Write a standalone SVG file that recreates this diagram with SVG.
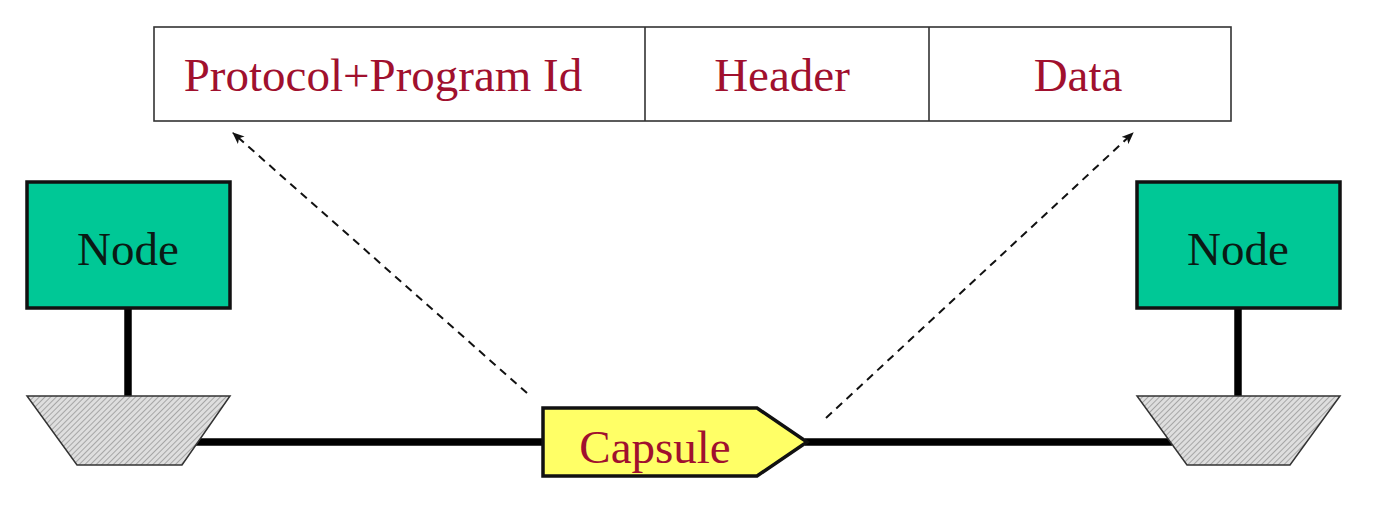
<svg xmlns="http://www.w3.org/2000/svg" width="1375" height="514" viewBox="0 0 1375 514">
<style>
.lbl{font-family:"Liberation Serif","Times New Roman",serif;font-size:47px;text-anchor:middle}
.red{fill:#a0102e}
.node{fill:#00c896;stroke:#111;stroke-width:3.5}
.trap{fill:url(#hatch);stroke:#333;stroke-width:1.5}
.link{stroke:#000;stroke-width:7.5;fill:none}
.dash{stroke:#111;stroke-width:2;stroke-dasharray:8,6;fill:none}
.cell{fill:#fff;stroke:#333;stroke-width:1.6}
</style>
<defs>
<pattern id="hatch" patternUnits="userSpaceOnUse" width="4" height="4" patternTransform="rotate(-45)">
<rect width="4" height="4" fill="#dedede"/>
<line x1="0" y1="0" x2="4" y2="0" stroke="#939393" stroke-width="1.5"/>
</pattern>
<marker id="arr" viewBox="0 0 12 10" refX="11" refY="5" markerWidth="12" markerHeight="10" markerUnits="userSpaceOnUse" orient="auto">
<path d="M0,0 L12,5 L0,10 L3,5 Z" fill="#111"/>
</marker>
</defs>
<rect width="1375" height="514" fill="#fff"/>
<g id="packet">
<rect class="cell" x="154" y="27" width="1077" height="94"/>
<line x1="645" y1="27" x2="645" y2="121" stroke="#333" stroke-width="1.6"/>
<line x1="929" y1="27" x2="929" y2="121" stroke="#333" stroke-width="1.6"/>
<text class="lbl red" x="383" y="91">Protocol+Program Id</text>
<text class="lbl red" x="782" y="91">Header</text>
<text class="lbl red" x="1078" y="91">Data</text>
</g>
<g id="connectors">
<line class="link" x1="128" y1="308" x2="128" y2="396"/>
<line class="link" x1="1238" y1="308" x2="1238" y2="396"/>
<line class="link" x1="196" y1="442" x2="545" y2="442"/>
<line class="link" x1="805" y1="442" x2="1172" y2="442"/>
<line class="dash" x1="527" y1="393" x2="233" y2="133" marker-end="url(#arr)"/>
<line class="dash" x1="826" y1="418" x2="1133" y2="133" marker-end="url(#arr)"/>
</g>
<g id="node-left">
<rect class="node" x="27" y="182" width="203" height="126"/>
<text class="lbl" x="128" y="265" fill="#0a1a14">Node</text>
</g>
<g id="node-right">
<rect class="node" x="1137" y="182" width="203" height="126"/>
<text class="lbl" x="1238" y="265" fill="#0a1a14">Node</text>
</g>
<g id="switch-left">
<polygon class="trap" points="27,396 230,396 182,465 77,465"/>
</g>
<g id="switch-right">
<polygon class="trap" points="1137,396 1340,396 1290,465 1187,465"/>
</g>
<g id="capsule">
<polygon points="543,408 757,408 807,442 757,476 543,476" fill="#ffff66" stroke="#111" stroke-width="3.5"/>
<text class="lbl red" x="655" y="463">Capsule</text>
</g>
</svg>
